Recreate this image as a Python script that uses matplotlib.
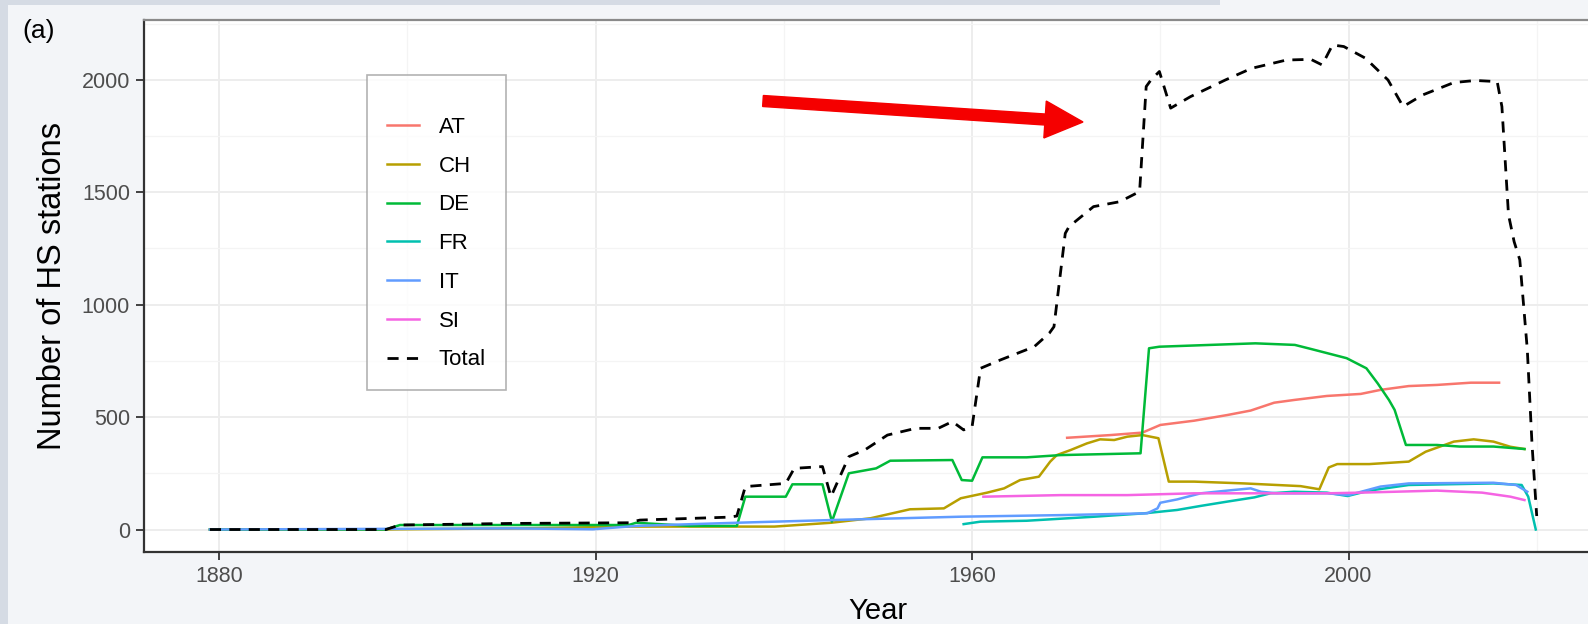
import numpy as np
import matplotlib
matplotlib.use("Agg")
import matplotlib.pyplot as plt
from matplotlib.patches import FancyArrow, Rectangle
from matplotlib.transforms import IdentityTransform
from matplotlib.ticker import MultipleLocator

plt.rcParams['font.family'] = ['Liberation Sans', 'DejaVu Sans']

# number of HS stations per country
at_years = [1970.1, 1974.7, 1978.1, 1980.0, 1983.6, 1987.1, 1989.6, 1992.1, 1994.2,
            1997.7, 2001.3, 2003.4, 2006.4, 2009.4, 2013.0, 2016.0]
at_vals = [408, 420, 431, 465, 484, 509, 529, 564, 576, 594, 603, 621, 638, 643, 653, 653]

ch_years = [1879, 1897.7, 1899.2, 1912.1, 1923.5, 1937.5, 1939, 1945, 1949.2, 1953.4,
            1957, 1958.8, 1961.6, 1963.4, 1965.1, 1967.1, 1968.3, 1969.0, 1970.5, 1972.2,
            1973.6, 1975.1, 1976.5, 1978.1, 1979.8, 1980.9, 1983.6, 1988.9, 1994.9, 1996.9,
            1997.9, 1998.8, 2002.2, 2006.4, 2008.2, 2011.2, 2013.3, 2015.4, 2017.2, 2018.7]
ch_vals = [0, 0, 1, 5, 13, 13, 13, 30, 50, 90, 94, 139, 164, 183, 220, 235, 302, 331, 354,
           383, 401, 398, 413, 420, 406, 213, 213, 205, 193, 179, 276, 291, 291, 302, 346,
           391, 401, 391, 368, 358]

de_years = [1879, 1897.7, 1899.2, 1923.5, 1924.3, 1930, 1935.0, 1935.9, 1940.2, 1940.9,
            1944.1, 1945.1, 1946.9, 1949.8, 1951.3, 1957.9, 1958.9, 1960.0, 1961.1, 1965.8,
            1969.4, 1977.9, 1978.8, 1979.9, 1985.3, 1990.1, 1994.3, 1996.1, 1999.8, 2001.9,
            2003.1, 2004.3, 2004.9, 2006.1, 2009.4, 2011.8, 2015.4, 2018.7]
de_vals = [0, 0, 20, 20, 30, 16, 16, 146, 146, 201, 201, 35, 250, 272, 306, 309, 220, 217,
           321, 321, 331, 339, 806, 813, 821, 828, 821, 802, 762, 717, 650, 576, 532, 376,
           376, 369, 369, 358]

fr_years = [1959.1, 1960.9, 1965.8, 1973.0, 1978.3, 1981.8, 1984.3, 1987.1, 1990.0, 1991.7,
            1994.2, 1997.7, 1999.9, 2002.2, 2006.4, 2015.4, 2018.4, 2019.1, 2019.9]
fr_vals = [24, 35, 39, 57, 72, 87, 105, 124, 143, 161, 168, 164, 149, 173, 198, 205, 198, 146, 0]

it_years = [1879, 1911.4, 1919.7, 1924.3, 1934.9, 1945, 1958.8, 1969.4, 1978.6, 1979.7,
            1980.0, 1981.8, 1984.3, 1987.1, 1989.6, 1990.7, 1992.4, 1997.7, 2000.0, 2003.4,
            2006.4, 2015.4, 2017.8, 2019.0]
it_vals = [0, 5, 1, 16, 30, 42, 57, 64, 72, 94, 119, 134, 161, 173, 183, 168, 161, 161, 153,
           191, 205, 208, 198, 168]

si_years = [1961.2, 1969.4, 1976.5, 1983.6, 1990.7, 1997.7, 2001.3, 2009.4, 2014.2, 2017.2, 2018.7]
si_vals = [146, 153, 153, 161, 161, 161, 164, 173, 164, 146, 131]

total_years = [1879, 1897.7, 1899.2, 1911, 1923.5, 1924.7, 1934.2, 1935.0, 1935.9, 1940.2,
               1941.1, 1944.1, 1945.0, 1946.9, 1948.6, 1951.0, 1954.0, 1956.4, 1957.9, 1959.1,
               1960.0, 1960.9, 1963.0, 1966.6, 1968.2, 1968.7, 1969.9, 1970.3, 1972.9, 1975.7,
               1977.8, 1978.5, 1979.0, 1979.9, 1981.1, 1983.2, 1986.9, 1989.7, 1993.4, 1996.0,
               1997.2, 1998.3, 1999.5, 2001.8, 2004.2, 2005.8, 2007.9, 2011.2, 2013.5, 2015.8,
               2016.3, 2017.0, 2017.6, 2018.2, 2019.0, 2019.5, 2020.0]
total_vals = [0, 0, 20, 27, 30, 42, 55, 60, 191, 205, 272, 280, 146, 324, 354, 420, 450, 450,
              480, 443, 458, 717, 754, 813, 873, 902, 1317, 1347, 1436, 1458, 1503, 1970, 1999,
              2037, 1874, 1925, 1999, 2051, 2088, 2091, 2066, 2155, 2148, 2096, 1999, 1881, 1933,
              1988, 1997, 1992, 1881, 1400, 1280, 1200, 800, 380, 60]

countries = ['AT', 'CH', 'DE', 'FR', 'IT', 'SI']
colors = ['#F8766D', '#B79F00', '#00BA38', '#00C0AF', '#619CFF', '#F564E3']
series = [(at_years, at_vals), (ch_years, ch_vals), (de_years, de_vals),
          (fr_years, fr_vals), (it_years, it_vals), (si_years, si_vals)]

W, H = 1588, 624
fig = plt.figure(figsize=(W / 100, H / 100), dpi=100, facecolor='#f3f5f8')

# bluish screenshot edges
fig.add_artist(Rectangle((0, 0), 8 / W, 1, transform=fig.transFigure,
                         facecolor='#d5dbe4', edgecolor='none', zorder=0))
fig.add_artist(Rectangle((0, 1 - 5 / H), 1220 / W, 5 / H, transform=fig.transFigure,
                         facecolor='#d5dbe4', edgecolor='none', zorder=0))

ax = fig.add_axes([144 / W, 72 / H, 1468 / W, 532 / H])
ax.set_facecolor('white')

for (yrs, vals), c, name in zip(series, colors, countries):
    ax.plot(yrs, vals, color=c, lw=1.8, label=name, zorder=3)
ax.plot(total_years, total_vals, color='black', lw=2.0, ls=(0, (4, 3)),
        label='Total', zorder=4)

ax.set_xlim(1872, 2028)
ax.set_ylim(-100, 2266)
ax.set_xticks([1880, 1920, 1960, 2000])
ax.set_yticks([0, 500, 1000, 1500, 2000])
ax.xaxis.set_minor_locator(MultipleLocator(20))
ax.yaxis.set_minor_locator(MultipleLocator(250))
ax.grid(which='major', color='#ededed', lw=1.4, zorder=0)
ax.grid(which='minor', color='#f4f4f4', lw=0.9, zorder=0)
ax.set_axisbelow(True)

ax.tick_params(which='major', length=6, width=1.3, color='#333333',
               labelsize=15.5, labelcolor='#4d4d4d', pad=4)
ax.tick_params(which='minor', length=0)

for s in ['left', 'bottom']:
    ax.spines[s].set_color('#333333')
    ax.spines[s].set_linewidth(1.6)
ax.spines['top'].set_color('#8a8a8a')
ax.spines['top'].set_linewidth(1.6)
ax.spines['right'].set_visible(False)

ax.set_xlabel('Year', fontsize=21)
ax.set_ylabel('Number of HS stations', fontsize=23.5)
ax.xaxis.set_label_coords(0.5, -0.084)
ax.yaxis.set_label_coords(-0.052, 0.5)

leg = ax.legend(loc='upper left', bbox_to_anchor=(367 / W, 1 - 75 / H),
                bbox_transform=fig.transFigure, fontsize=16, frameon=True,
                fancybox=False, edgecolor='#a0a0a0', borderpad=0.9,
                labelspacing=0.8, handlelength=1.46, handletextpad=0.86,
                title=' ', title_fontsize=3, borderaxespad=0)
leg.get_frame().set_linewidth(1.2)

fig.text(22 / W, 1 - 31 / H, '(a)', fontsize=19, ha='left', va='center')

# red arrow pointing at the peak of the total
fig.add_artist(FancyArrow(763, H - 101, 320, -21, width=11, head_width=37,
                          head_length=38, length_includes_head=True,
                          color='#f50000', transform=IdentityTransform(), zorder=10))

fig.savefig('out.png', dpi=100, facecolor=fig.get_facecolor())
